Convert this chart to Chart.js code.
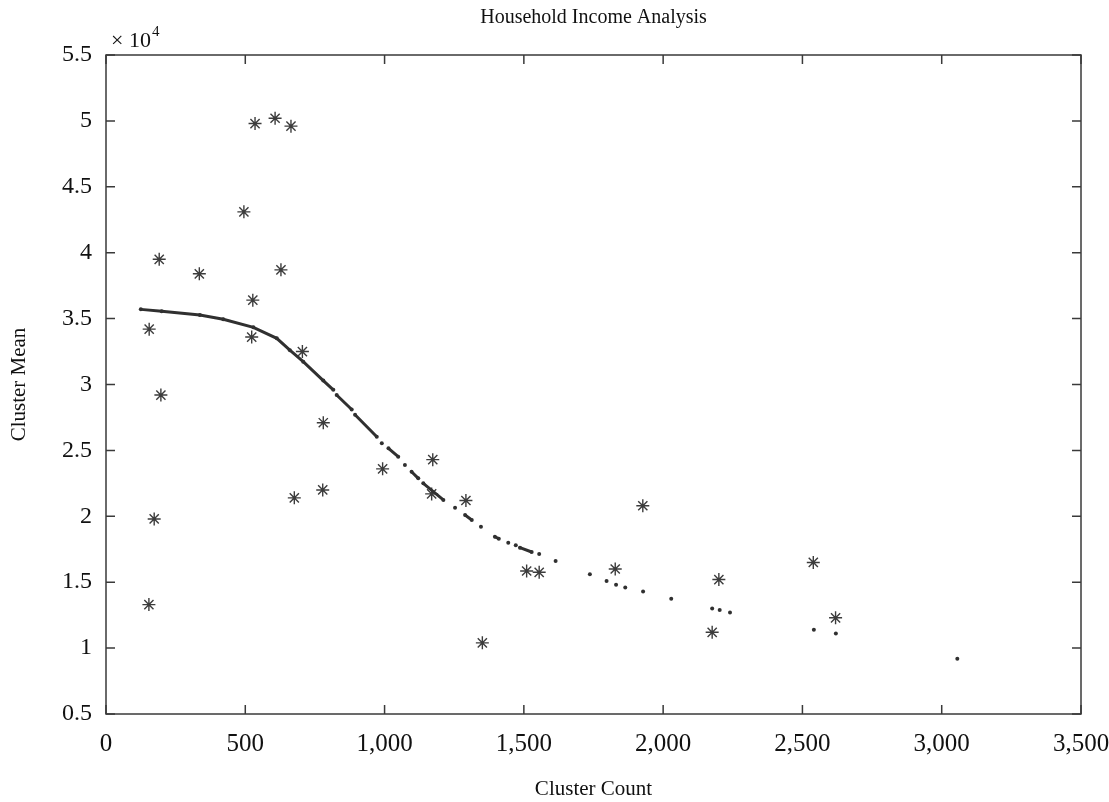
<!DOCTYPE html>
<html>
<head>
<meta charset="utf-8">
<title>Household Income Analysis</title>
<script src="https://cdn.jsdelivr.net/npm/chart.js@4.4.1/dist/chart.umd.min.js"></script>
<style>
  html, body { margin: 0; padding: 0; background: #fff; }
  #wrap { width: 1109px; height: 802px; }
</style>
</head>
<body>
<div id="wrap"><canvas id="incomeChart"></canvas></div>
<script>
// cluster points (count, mean income)
const starX = [191, 335, 628, 527, 155, 523, 705, 197, 780, 993, 1173, 676, 778, 1169, 1292,
  173, 1927, 1828, 1510, 1555, 2200, 2539, 2619, 2176, 1351, 154, 535, 607, 664, 495];
const starY = [39500, 38400, 38700, 36400, 34200, 33600, 32500, 29200, 27100, 23600, 24300, 21400, 22000, 21700, 21200,
  19800, 20800, 16000, 15850, 15750, 15200, 16500, 12300, 11200, 10400, 13300, 49800, 50200, 49600, 43100];

// fitted trend, null = break in the printed line
const trendX = [125, 200, 337, 421, 529, 613, 660, 708, 780, 816, null,
  828, 882, null, 894, 972, null, 990, null, 1014, 1049, null, 1073, null,
  1097, 1121, null, 1139, 1211, null, 1253, null, 1289, 1313, null, 1346, null,
  1396, 1410, null, 1444, null, 1471, null, 1486, 1528, null, 1555, null, 1614, null,
  1737, null, 1797, null, 1831, null, 1864, null, 1928, null, 2029, null, 2176, null,
  2203, null, 2240, null, 2541, null, 2620, null, 3056];
const trendY = [35700, 35550, 35270, 34950, 34340, 33500, 32600, 31730, 30300, 29600, null,
  29200, 28100, null, 27700, 26040, null, 25540, null, 25160, 24520, null, 23890, null,
  23380, 22880, null, 22500, 21240, null, 20650, null, 20100, 19720, null, 19200, null,
  18450, 18300, null, 18000, null, 17800, null, 17620, 17290, null, 17140, null, 16600, null,
  15600, null, 15100, null, 14800, null, 14600, null, 14300, null, 13750, null, 13000, null,
  12900, null, 12700, null, 11400, null, 11100, null, 9200];

const xTickLabels = ["0", "500", "1,000", "1,500", "2,000", "2,500", "3,000", "3,500"];
const yTickLabels = ["0.5", "1", "1.5", "2", "2.5", "3", "3.5", "4", "4.5", "5", "5.5"];

const serif = "'Liberation Serif', 'Times New Roman', serif";
const ink = "#111";

// box frame with inward ticks on all four sides, plus the x10^4 exponent
const framePlugin = {
  id: "frame",
  afterDatasetsDraw(chart) {
    const { ctx, chartArea: a, scales } = chart;
    const len = 9;
    ctx.save();
    ctx.strokeStyle = "#3a3a3a";
    ctx.lineWidth = 1.5;
    ctx.strokeRect(a.left, a.top, a.right - a.left, a.bottom - a.top);
    ctx.beginPath();
    scales.x.ticks.forEach(t => {
      const px = scales.x.getPixelForValue(t.value);
      ctx.moveTo(px, a.bottom); ctx.lineTo(px, a.bottom - len);
      ctx.moveTo(px, a.top); ctx.lineTo(px, a.top + len);
    });
    scales.y.ticks.forEach(t => {
      const py = scales.y.getPixelForValue(t.value);
      ctx.moveTo(a.left, py); ctx.lineTo(a.left + len, py);
      ctx.moveTo(a.right, py); ctx.lineTo(a.right - len, py);
    });
    ctx.stroke();

    ctx.fillStyle = ink;
    ctx.textBaseline = "alphabetic";
    ctx.font = `22px ${serif}`;
    const base = "× 10";
    ctx.fillText(base, a.left + 5, a.top - 8);
    const w = ctx.measureText(base).width;
    ctx.font = `15px ${serif}`;
    ctx.fillText("4", a.left + 6 + w, a.top - 19);
    ctx.restore();
  }
};

const ctx = document.getElementById("incomeChart");

new Chart(ctx, {
  type: "scatter",
  data: {
    datasets: [
      {
        label: "Trend",
        data: trendX.map((x, i) => ({ x, y: trendY[i] })),
        showLine: true,
        spanGaps: false,
        borderColor: "#303030",
        backgroundColor: "#303030",
        borderWidth: 3,
        pointRadius: 2,
        pointBorderWidth: 0,
        pointHoverRadius: 2
      },
      {
        label: "Clusters",
        data: starX.map((x, i) => ({ x, y: starY[i] })),
        pointStyle: "star",
        pointRadius: 6.5,
        pointHoverRadius: 6.5,
        borderColor: "#3c3c3c",
        backgroundColor: "#3c3c3c",
        borderWidth: 1.4
      }
    ]
  },
  options: {
    responsive: true,
    maintainAspectRatio: false,
    animation: false,
    layout: { padding: { left: 0, right: 28, top: 0, bottom: 0 } },
    plugins: {
      legend: { display: false },
      tooltip: { enabled: false },
      title: {
        display: true,
        text: "Household Income Analysis",
        fullSize: false,
        color: ink,
        font: { family: serif, size: 20, weight: "normal" },
        padding: { top: 6, bottom: 25 }
      }
    },
    scales: {
      x: {
        type: "linear",
        min: 0,
        max: 3500,
        afterFit: s => {
          s.height = 88;
          // keep the last tick label from shrinking the plot
          s.paddingLeft = 0;
          s.paddingRight = 0;
        },
        grid: { display: false, drawTicks: false },
        border: { display: false },
        ticks: {
          stepSize: 500,
          padding: 15,
          color: ink,
          maxRotation: 0,
          font: { family: serif, size: 25 },
          callback: (v, i) => xTickLabels[i]
        },
        title: {
          display: true,
          text: "Cluster Count",
          color: ink,
          font: { family: serif, size: 21 },
          padding: { top: 0, bottom: 0 }
        }
      },
      y: {
        type: "linear",
        min: 5000,
        max: 55000,
        afterFit: s => { s.width = 106; },
        grid: { display: false, drawTicks: false },
        border: { display: false },
        ticks: {
          stepSize: 5000,
          padding: 14,
          color: ink,
          font: { family: serif, size: 24 },
          callback: (v, i) => yTickLabels[i]
        },
        title: {
          display: true,
          text: "Cluster Mean",
          color: ink,
          font: { family: serif, size: 21 },
          padding: { top: 7, bottom: 0 }
        }
      }
    }
  },
  plugins: [framePlugin]
});
</script>
</body>
</html>
